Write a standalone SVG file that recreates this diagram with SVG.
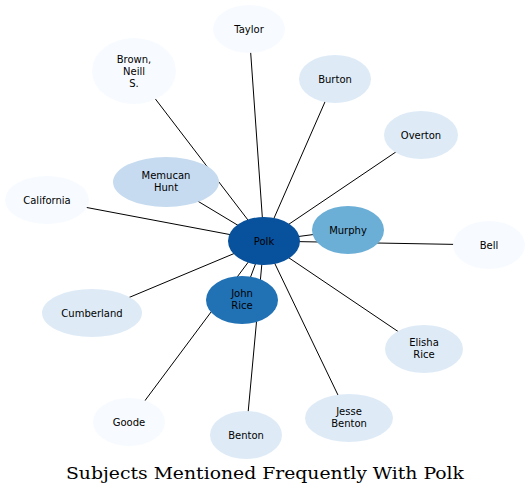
<svg xmlns="http://www.w3.org/2000/svg" width="530" height="495" viewBox="0 0 530 495">
<style>
.e{stroke:#000;stroke-width:1;fill:none}
.n{stroke:none}
.t{font-family:"DejaVu Sans",sans-serif;font-size:10px;fill:#000;text-anchor:middle}
.c0{fill:#f7fbff}.c1{fill:#deebf7}.c2{fill:#c6dbef}.c3{fill:#6baed6}.c4{fill:#2171b5}.c5{fill:#08519c}
.title{font-family:"DejaVu Serif","Liberation Serif",serif;font-size:17.5px;fill:#000;text-anchor:middle}
</style>
<rect width="530" height="495" fill="#fff"/>
<g id="edges">
<line class="e" x1="264" y1="241" x2="249" y2="29"/>
<line class="e" x1="264" y1="241" x2="134" y2="71"/>
<line class="e" x1="264" y1="241" x2="335" y2="79"/>
<line class="e" x1="264" y1="241" x2="421" y2="135"/>
<line class="e" x1="264" y1="241" x2="47" y2="200"/>
<line class="e" x1="264" y1="241" x2="166" y2="182"/>
<line class="e" x1="264" y1="241" x2="348" y2="230"/>
<line class="e" x1="264" y1="241" x2="489" y2="245"/>
<line class="e" x1="264" y1="241" x2="92" y2="313"/>
<line class="e" x1="264" y1="241" x2="242" y2="300"/>
<line class="e" x1="264" y1="241" x2="424" y2="349"/>
<line class="e" x1="264" y1="241" x2="129" y2="422"/>
<line class="e" x1="264" y1="241" x2="246" y2="435"/>
<line class="e" x1="264" y1="241" x2="349" y2="418"/>
</g>
<g id="taylor"><ellipse class="n c0" cx="249" cy="29" rx="36" ry="24"/><text class="t" x="249" y="32.5">Taylor</text></g>
<g id="brown"><ellipse class="n c0" cx="134" cy="71" rx="42" ry="33"/><text class="t" x="134" y="62.5">Brown,</text><text class="t" x="134" y="74.5">Neill</text><text class="t" x="134" y="86.5">S.</text></g>
<g id="burton"><ellipse class="n c1" cx="335" cy="79" rx="36" ry="24"/><text class="t" x="335" y="82.5">Burton</text></g>
<g id="overton"><ellipse class="n c1" cx="421" cy="135" rx="37" ry="24"/><text class="t" x="421" y="138.5">Overton</text></g>
<g id="california"><ellipse class="n c0" cx="47" cy="200" rx="42" ry="24"/><text class="t" x="47" y="203.5">California</text></g>
<g id="memucan"><ellipse class="n c2" cx="166" cy="182" rx="53" ry="25"/><text class="t" x="166" y="179">Memucan</text><text class="t" x="166" y="191">Hunt</text></g>
<g id="polk"><ellipse class="n c5" cx="264" cy="241" rx="36" ry="24"/><text class="t" x="264" y="244.5">Polk</text></g>
<g id="murphy"><ellipse class="n c3" cx="348" cy="230" rx="36" ry="24"/><text class="t" x="348" y="233.5">Murphy</text></g>
<g id="bell"><ellipse class="n c0" cx="489" cy="245" rx="36" ry="24"/><text class="t" x="489" y="248.5">Bell</text></g>
<g id="cumberland"><ellipse class="n c1" cx="92" cy="313" rx="50" ry="24"/><text class="t" x="92" y="316.5">Cumberland</text></g>
<g id="johnrice"><ellipse class="n c4" cx="242" cy="300" rx="36" ry="24"/><text class="t" x="242" y="297">John</text><text class="t" x="242" y="309">Rice</text></g>
<g id="elisharice"><ellipse class="n c1" cx="424" cy="349" rx="39" ry="24"/><text class="t" x="424" y="346">Elisha</text><text class="t" x="424" y="358">Rice</text></g>
<g id="goode"><ellipse class="n c0" cx="129" cy="422" rx="36" ry="24"/><text class="t" x="129" y="425.5">Goode</text></g>
<g id="benton"><ellipse class="n c1" cx="246" cy="435" rx="36" ry="24"/><text class="t" x="246" y="438.5">Benton</text></g>
<g id="jessebenton"><ellipse class="n c1" cx="349" cy="418" rx="44" ry="24"/><text class="t" x="349" y="415">Jesse</text><text class="t" x="349" y="427">Benton</text></g>
<text class="title" x="265" y="479" textLength="398" lengthAdjust="spacingAndGlyphs">Subjects Mentioned Frequently With Polk</text>
</svg>
